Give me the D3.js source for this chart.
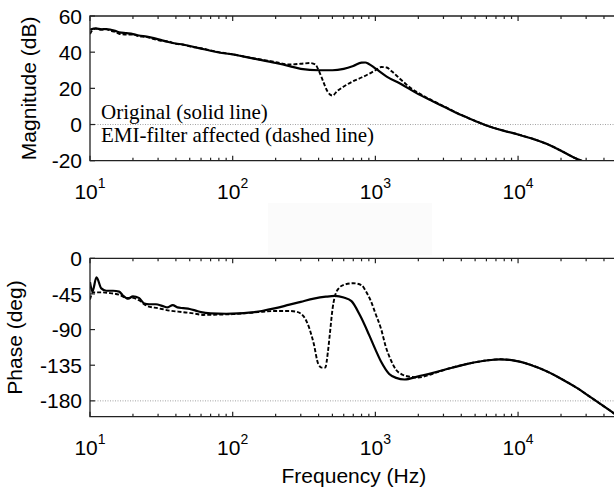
<!DOCTYPE html>
<html>
  <head>
    <meta charset="utf-8">
    <title>Bode plot - EMI filter</title>
    <style>
      body { margin: 0; background: #fff; }
      svg { font-family: "Liberation Sans", Arial, sans-serif; }
      .tick-label { font-size: 21px; fill: #000; }
      .axis-title { font-size: 21px; fill: #000; }
      .legend { font-family: "Liberation Serif", "Times New Roman", serif; font-size: 21px; fill: #000; }
      .frame { fill: none; stroke: #222; stroke-width: 1.3px; }
      .tick { stroke: #222; stroke-width: 1.2px; }
      .ref { stroke: #999; stroke-width: 0.9px; stroke-dasharray: 1,1.5; }
      .solid { fill: none; stroke: #000; stroke-width: 2.2px; }
      .dashed { fill: none; stroke: #000; stroke-width: 1.9px; stroke-dasharray: 4,2; }
    </style>
  </head>
  <body>
    <svg width="614" height="488"></svg>

    <script src="https://d3js.org/d3.v7.min.js"></script>
    <script>
      // Magnitude, original (solid)
      const magFreqOrig = [10, 11, 12, 13, 14, 15, 16, 18, 20, 22, 25, 28, 32, 36, 40, 45, 50, 60, 70, 80, 100, 120, 150, 200, 250, 300, 400, 500, 600, 700, 800, 850, 900, 1000, 1200, 1500, 2000, 2500, 3000, 4000, 5000, 6000, 8000, 10000, 13000, 16000, 20000, 25000, 30000];
      const magOrig = [52.5, 53.2, 52.6, 52.8, 52.4, 51.8, 51, 50.5, 50, 49.2, 48.6, 47.8, 46.5, 45.5, 44.8, 44.2, 43.4, 42, 40.8, 39.8, 38.8, 37.5, 36, 34, 32.3, 30.8, 30, 30, 30.8, 32.4, 34.2, 34.3, 33.5, 31, 26.5, 22.5, 16.8, 13, 10, 5.2, 2, -0.5, -3.5, -5.5, -8.2, -10.8, -14.5, -18.5, -21];

      // Magnitude, EMI-filter affected (dashed)
      const magFreqEmi = [10, 10.5, 11, 12, 13, 14, 15, 16, 18, 20, 22, 25, 28, 32, 36, 40, 45, 50, 60, 70, 80, 100, 120, 150, 200, 250, 300, 350, 380, 400, 430, 460, 500, 540, 600, 700, 800, 900, 1000, 1100, 1200, 1300, 1500, 1750, 2000, 2500, 3000, 4000, 5000, 6000, 8000, 10000, 13000, 16000, 20000, 25000, 30000];
      const magEmi = [50, 52.5, 53, 52.5, 52.6, 51.8, 51.2, 50.2, 49.8, 49.8, 48.8, 48.4, 47.2, 46.2, 45.8, 44.6, 44.2, 43.2, 42.2, 41, 40, 38.8, 37.6, 36.2, 34.5, 33.2, 33.6, 34, 33.2, 30, 24, 18.5, 16, 18.5, 21, 24, 26, 28, 30, 31.8, 31.5, 29.5, 25, 20.5, 17.5, 13.3, 10.2, 5.3, 2, -0.5, -3.5, -5.5, -8.2, -10.8, -14.5, -18.5, -21];

      // Phase, original (solid)
      const phFreqOrig = [10, 10.4, 11.1, 12, 13, 14.5, 16, 17, 18.5, 20, 22, 24, 26, 29, 32, 35, 38, 41, 45, 50, 55, 60, 70, 90, 110, 130, 160, 200, 250, 300, 370, 450, 520, 600, 680, 780, 900, 1000, 1100, 1250, 1400, 1600, 2000, 2500, 3300, 4500, 6000, 7500, 9000, 12000, 16000, 20000, 26000, 32000, 40000, 50000];
      const phOrig = [-30, -42, -24, -38, -41, -41, -42, -47, -51, -48, -50, -57, -58, -58, -60, -62, -59, -62, -63, -64, -66, -68, -69.5, -70, -69.5, -68.5, -66.5, -63, -58.5, -55, -51, -48.5, -47.5, -49.5, -54, -72, -96, -115, -131, -146, -151, -153, -149, -145, -139, -133, -129, -127.5, -128.5, -134, -143, -152, -164, -175, -187, -199];

      // Phase, EMI-filter affected (dashed)
      const phFreqEmi = [10, 10.5, 12, 13.8, 16, 18, 20, 22, 25, 30, 36, 45, 55, 62, 80, 100, 120, 150, 200, 250, 280, 313, 344, 370, 397, 420, 445, 465, 480, 500, 520, 560, 600, 700, 800, 860, 930, 1000, 1100, 1180, 1280, 1400, 1550, 1740, 2000, 2400, 2800, 3300, 4500, 6000, 7500, 9000, 12000, 16000, 20000, 26000, 32000, 40000, 50000];
      const phEmi = [-52, -43, -43, -44, -46, -50, -50, -53, -60, -63, -66, -68, -70, -71.5, -71, -70.5, -69.5, -68, -66.5, -66.5, -67.5, -73, -88, -108, -133, -138, -138, -118, -95, -65, -48, -37, -33.5, -31.5, -34, -42, -54, -69.4, -90, -111, -128, -141, -147, -149.5, -150.5, -147, -143, -139, -133, -129, -127.5, -128.5, -134, -143, -152, -164, -175, -187, -199];

      const xDecades = [10, 100, 1000, 10000];
      const magTicks = [60, 40, 20, 0, -20];
      const phTicks = [0, -45, -90, -135, -180];
      const legendLines = ['Original (solid line)', 'EMI-filter affected (dashed line)'];

      const svg = d3.select('svg');

      const x = d3.scaleLog().domain([10, 50000]).range([90, 617.8]);

      const minorTicks = [];
      for (let d = 10; d < 50000; d *= 10) {
        for (let m = 2; m <= 9; m++) if (d * m <= 50000) minorTicks.push(d * m);
      }

      // faint patch in the original picture
      svg.append('rect')
        .attr('x', 268).attr('y', 203).attr('width', 164).attr('height', 52)
        .attr('fill', '#fbfbfb');

      function panel(opts) {
        const y = d3.scaleLinear().domain(opts.domain).range([opts.bottom, opts.top]);
        const g = svg.append('g');
        const clipId = 'clip' + opts.name;

        g.append('clipPath').attr('id', clipId)
          .append('rect')
          .attr('x', x.range()[0]).attr('y', opts.top)
          .attr('width', x.range()[1] - x.range()[0]).attr('height', opts.bottom - opts.top);

        // reference dotted line
        g.append('line').attr('class', 'ref')
          .attr('x1', x.range()[0]).attr('x2', x.range()[1])
          .attr('y1', y(opts.refLine)).attr('y2', y(opts.refLine));

        const line = d3.line().curve(d3.curveMonotoneX);
        const curves = g.append('g').attr('clip-path', `url(#${clipId})`);
        opts.series.forEach(s => {
          curves.append('path')
            .attr('class', s.cls)
            .attr('d', line(s.f.map((f, i) => [x(f), y(s.v[i])])));
        });

        // frame (left, top, bottom; right edge lies beyond the picture)
        g.append('path').attr('class', 'frame')
          .attr('d', `M${x.range()[1]},${opts.top}H${x.range()[0]}V${opts.bottom}H${x.range()[1]}`);

        // x ticks top and bottom, inward
        xDecades.forEach(t => {
          g.append('line').attr('class', 'tick')
            .attr('x1', x(t)).attr('x2', x(t)).attr('y1', opts.bottom).attr('y2', opts.bottom - 5);
          g.append('line').attr('class', 'tick')
            .attr('x1', x(t)).attr('x2', x(t)).attr('y1', opts.top).attr('y2', opts.top + 5);
        });
        minorTicks.forEach(t => {
          g.append('line').attr('class', 'tick')
            .attr('x1', x(t)).attr('x2', x(t)).attr('y1', opts.bottom).attr('y2', opts.bottom - 3);
          g.append('line').attr('class', 'tick')
            .attr('x1', x(t)).attr('x2', x(t)).attr('y1', opts.top).attr('y2', opts.top + 3);
        });

        // y ticks and labels
        opts.ticks.forEach(t => {
          g.append('line').attr('class', 'tick')
            .attr('x1', x.range()[0]).attr('x2', x.range()[0] + 5)
            .attr('y1', y(t)).attr('y2', y(t));
          g.append('text').attr('class', 'tick-label')
            .attr('x', x.range()[0] - 8).attr('y', y(t)).attr('dy', '0.36em')
            .attr('text-anchor', 'end')
            .text(t);
        });

        // x tick labels 10^n
        xDecades.forEach(t => {
          const txt = g.append('text').attr('class', 'tick-label')
            .attr('x', x(t)).attr('y', opts.bottom + 38)
            .attr('text-anchor', 'middle');
          txt.append('tspan').text('10');
          txt.append('tspan').attr('dy', -11).style('font-size', '14px').text(Math.round(Math.log10(t)));
        });

        // y axis title
        g.append('text').attr('class', 'axis-title')
          .attr('transform', `translate(${opts.titleX},${(opts.top + opts.bottom) / 2}) rotate(-90)`)
          .attr('text-anchor', 'middle')
          .text(opts.title);

        return y;
      }

      panel({
        name: 'mag', top: 16, bottom: 160.7, domain: [-20, 60], refLine: 0,
        ticks: magTicks, title: 'Magnitude (dB)', titleX: 36,
        series: [
          { f: magFreqOrig, v: magOrig, cls: 'solid' },
          { f: magFreqEmi, v: magEmi, cls: 'dashed' }
        ]
      });

      panel({
        name: 'ph', top: 258.3, bottom: 416.7, domain: [-200, 0], refLine: -180,
        ticks: phTicks, title: 'Phase (deg)', titleX: 22,
        series: [
          { f: phFreqOrig, v: phOrig, cls: 'solid' },
          { f: phFreqEmi, v: phEmi, cls: 'dashed' }
        ]
      });

      // legend text inside the magnitude panel
      svg.selectAll('.legend')
        .data(legendLines)
        .enter()
        .append('text')
        .attr('class', 'legend')
        .attr('x', 101)
        .attr('y', (d, i) => 119 + i * 23)
        .text(d => d);

      svg.append('text').attr('class', 'axis-title')
        .attr('x', (x.range()[0] + x.range()[1]) / 2).attr('y', 483)
        .attr('text-anchor', 'middle')
        .text('Frequency (Hz)');
    </script>
  </body>
</html>
